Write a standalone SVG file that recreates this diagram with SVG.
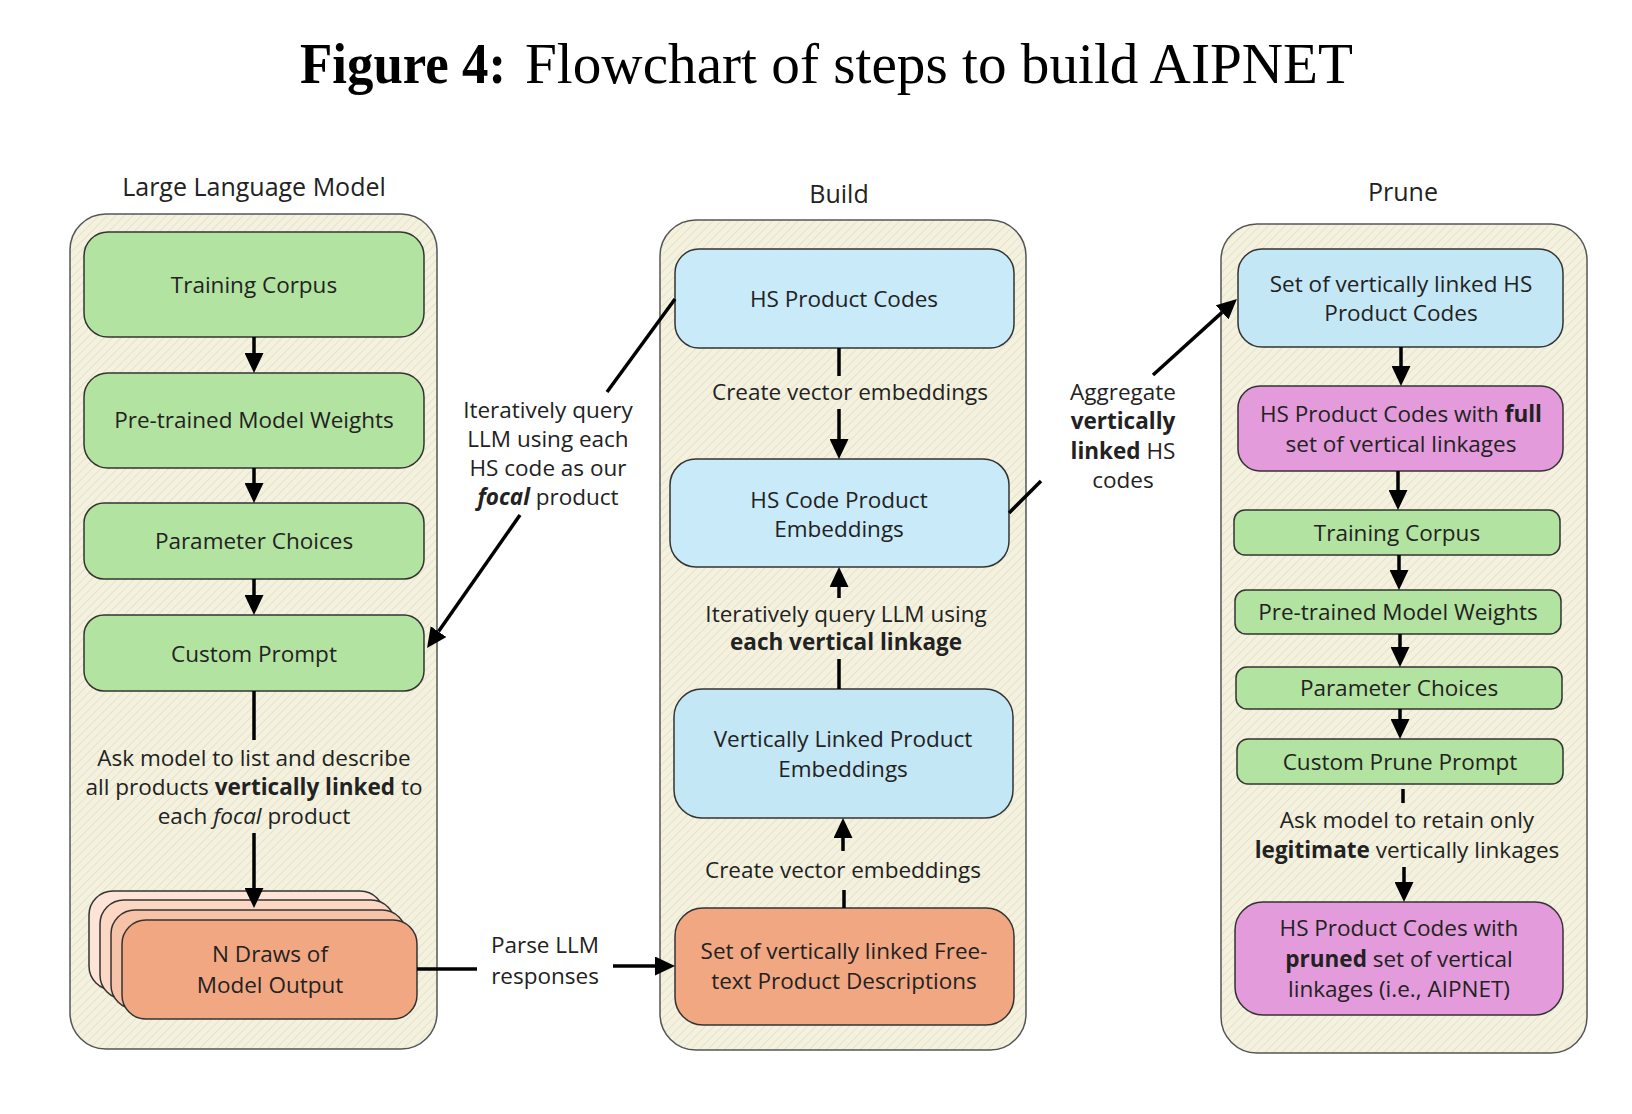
<svg xmlns="http://www.w3.org/2000/svg" width="1632" height="1114" viewBox="0 0 1632 1114">
<defs>
<pattern id="hatch" patternUnits="userSpaceOnUse" width="6" height="6" patternTransform="rotate(45)">
<rect width="6" height="6" fill="#f4f2de"/>
<line x1="0" y1="0" x2="0" y2="6" stroke="#e1dec6" stroke-width="1.5"/>
</pattern>
<marker id="ah" viewBox="0 0 20 19" markerWidth="20" markerHeight="19" refX="0" refY="9.5" orient="auto" markerUnits="userSpaceOnUse">
<path d="M0,0 L20,9.5 L0,19 z" fill="#000"/>
</marker>
</defs>
<style>
.t{font-family:"Open Sans",Lato,"Liberation Sans",sans-serif;font-size:22.5px;fill:#222;text-anchor:middle}
.h{font-size:25px}
.b{font-weight:bold}
.cont{fill:url(#hatch);stroke:#555;stroke-width:1.5}
.box{stroke:#333;stroke-width:1.5}
.g{fill:#b3e3a0}
.bl{fill:#c4e7f6}
.pu{fill:#e39bdb}
.or{fill:#f1a882}
.c{stroke:#000;stroke-width:3.5;fill:none}
.ca{stroke:#000;stroke-width:3.5;fill:none;marker-end:url(#ah)}
</style>
<rect width="1632" height="1114" fill="#fff"/>
<g id="title">
<text x="300" y="83" font-family="'Liberation Serif',serif" font-size="56" font-weight="bold" fill="#000" textLength="206" lengthAdjust="spacingAndGlyphs">Figure 4:</text>
<text x="525" y="83" font-family="'Liberation Serif',serif" font-size="56" fill="#000" textLength="828" lengthAdjust="spacingAndGlyphs">Flowchart of steps to build AIPNET</text>
</g>
<g id="headers">
<text class="t h" x="254" y="196">Large Language Model</text>
<text class="t h" x="839" y="203">Build</text>
<text class="t h" x="1403" y="201">Prune</text>
</g>
<g id="containers">
<rect id="llm-container" class="cont" x="70" y="214" width="367" height="835" rx="36"/>
<rect id="build-container" class="cont" x="660" y="220" width="366" height="830" rx="36"/>
<rect id="prune-container" class="cont" x="1221" y="224" width="366" height="829" rx="36"/>
</g>
<g id="llm-training-corpus"><rect class="box g" x="84" y="232" width="340" height="105" rx="24"/><text class="t" x="254" y="293">Training Corpus</text></g>
<g id="llm-pretrained"><rect class="box g" x="84" y="373" width="340" height="95" rx="24"/><text class="t" x="254" y="428">Pre-trained Model Weights</text></g>
<g id="llm-parameters"><rect class="box g" x="84" y="503" width="340" height="76" rx="20"/><text class="t" x="254" y="549">Parameter Choices</text></g>
<g id="llm-custom-prompt"><rect class="box g" x="84" y="615" width="340" height="76" rx="20"/><text class="t" x="254" y="662">Custom Prompt</text></g>
<g id="llm-draws">
<rect class="box" fill="#fde4d7" x="89" y="891" width="295" height="99" rx="24"/>
<rect class="box" fill="#fcd7c4" x="100" y="900" width="295" height="99" rx="24"/>
<rect class="box" fill="#f7c3a8" x="111" y="910" width="295" height="99" rx="24"/>
<rect class="box or" x="122" y="920" width="295" height="99" rx="24"/>
<text class="t"><tspan x="270" y="962">N Draws of</tspan><tspan x="270" y="993">Model Output</tspan></text>
</g>
<g id="build-hs-codes"><rect class="box" fill="#c8eaf9" x="675" y="249" width="339" height="99" rx="24"/><text class="t" x="844" y="307">HS Product Codes</text></g>
<g id="build-hs-embeddings"><rect class="box" fill="#c8eaf9" x="670" y="459" width="339" height="108" rx="26"/><text class="t"><tspan x="839" y="508">HS Code Product</tspan><tspan x="839" y="537">Embeddings</tspan></text></g>
<g id="build-linked-embeddings"><rect class="box bl" x="674" y="689" width="339" height="129" rx="28"/><text class="t"><tspan x="843" y="747">Vertically Linked Product</tspan><tspan x="843" y="777">Embeddings</tspan></text></g>
<g id="build-free-text"><rect class="box or" x="675" y="908" width="339" height="117" rx="28"/><text class="t"><tspan x="844" y="959">Set of vertically linked Free-</tspan><tspan x="844" y="989">text Product Descriptions</tspan></text></g>
<g id="prune-linked-codes"><rect class="box bl" x="1238" y="249" width="325" height="98" rx="24"/><text class="t"><tspan x="1401" y="292">Set of vertically linked HS</tspan><tspan x="1401" y="321">Product Codes</tspan></text></g>
<g id="prune-full"><rect class="box pu" x="1238" y="386" width="325" height="85" rx="22"/><text class="t"><tspan x="1401" y="422">HS Product Codes with <tspan class="b">full</tspan></tspan><tspan x="1401" y="452">set of vertical linkages</tspan></text></g>
<g id="prune-training-corpus"><rect class="box g" x="1234" y="510" width="326" height="45" rx="11"/><text class="t" x="1397" y="541">Training Corpus</text></g>
<g id="prune-pretrained"><rect class="box g" x="1235" y="590" width="326" height="44" rx="11"/><text class="t" x="1398" y="620">Pre-trained Model Weights</text></g>
<g id="prune-parameters"><rect class="box g" x="1236" y="667" width="326" height="42" rx="11"/><text class="t" x="1399" y="696">Parameter Choices</text></g>
<g id="prune-custom-prompt"><rect class="box g" x="1237" y="739" width="326" height="45" rx="11"/><text class="t" x="1400" y="770">Custom Prune Prompt</text></g>
<g id="prune-aipnet"><rect class="box pu" x="1235" y="902" width="328" height="113" rx="28"/><text class="t"><tspan x="1399" y="936">HS Product Codes with</tspan><tspan x="1399" y="967"><tspan class="b">pruned</tspan> set of  vertical</tspan><tspan x="1399" y="997">linkages (i.e., AIPNET)</tspan></text></g>
<g id="connectors">
<line class="ca" x1="254" y1="337" x2="254" y2="353"/>
<line class="ca" x1="254" y1="468" x2="254" y2="483"/>
<line class="ca" x1="254" y1="579" x2="254" y2="595"/>
<line class="c" x1="254" y1="691" x2="254" y2="740"/>
<line class="ca" x1="254" y1="833" x2="254" y2="888"/>
<line class="c" x1="417" y1="969" x2="477" y2="969"/>
<line class="ca" x1="613" y1="966" x2="655" y2="966"/>
<line class="c" x1="839" y1="348" x2="839" y2="376"/>
<line class="ca" x1="839" y1="409" x2="839" y2="439"/>
<line class="ca" x1="839" y1="598" x2="839" y2="587"/>
<line class="c" x1="839" y1="659" x2="839" y2="689"/>
<line class="ca" x1="843" y1="851" x2="843" y2="838"/>
<line class="c" x1="844" y1="890" x2="844" y2="908"/>
<line class="c" x1="675" y1="299" x2="607" y2="392"/>
<line class="ca" x1="520" y1="515" x2="438.5" y2="631.6"/>
<line class="c" x1="1009" y1="513" x2="1041" y2="481"/>
<line class="ca" x1="1153" y1="375" x2="1222.1" y2="312.4"/>
<line class="ca" x1="1401" y1="347" x2="1401" y2="366"/>
<line class="ca" x1="1398" y1="471" x2="1398" y2="490"/>
<line class="ca" x1="1399" y1="555" x2="1399" y2="570"/>
<line class="ca" x1="1400" y1="634" x2="1400" y2="647"/>
<line class="ca" x1="1400" y1="709" x2="1400" y2="719"/>
<line class="c" x1="1403" y1="789" x2="1403" y2="803"/>
<line class="ca" x1="1404" y1="867" x2="1404" y2="882"/>
</g>
<g id="connector-labels">
<text class="t"><tspan x="254" y="766">Ask model to list and describe</tspan><tspan x="254" y="795">all products <tspan class="b">vertically linked</tspan> to</tspan><tspan x="254" y="824">each <tspan font-style="italic">focal</tspan> product</tspan></text>
<text class="t"><tspan x="545" y="953">Parse LLM</tspan><tspan x="545" y="984">responses</tspan></text>
<text class="t"><tspan x="548" y="418">Iteratively query</tspan><tspan x="548" y="447">LLM using each</tspan><tspan x="548" y="476">HS code as our</tspan><tspan x="548" y="505"><tspan class="b" font-style="italic">focal</tspan> product</tspan></text>
<text class="t" x="850" y="400">Create vector embeddings</text>
<text class="t"><tspan x="846" y="622">Iteratively query LLM using</tspan><tspan x="846" y="650" class="b">each vertical linkage</tspan></text>
<text class="t" x="843" y="878">Create vector embeddings</text>
<text class="t"><tspan x="1123" y="400">Aggregate</tspan><tspan x="1123" y="429" class="b">vertically</tspan><tspan x="1123" y="459"><tspan class="b">linked</tspan> HS</tspan><tspan x="1123" y="488">codes</tspan></text>
<text class="t"><tspan x="1407" y="828">Ask model to retain only</tspan><tspan x="1407" y="858"><tspan class="b">legitimate</tspan> vertically linkages</tspan></text>
</g>
</svg>
